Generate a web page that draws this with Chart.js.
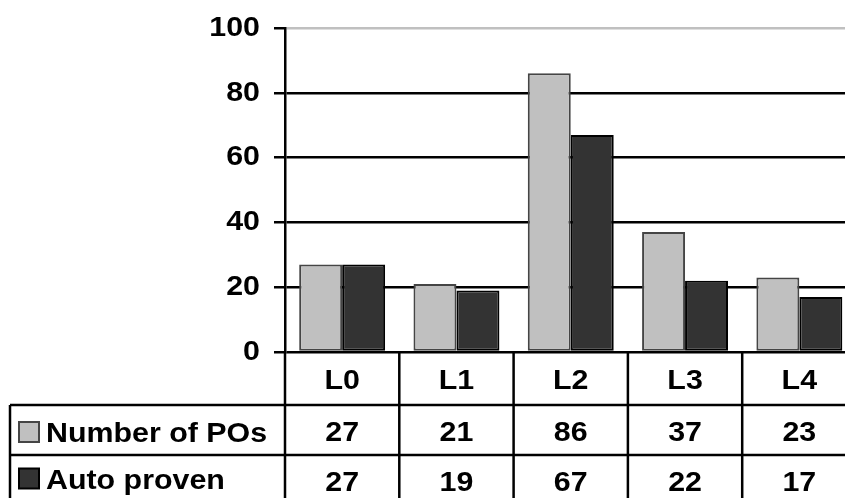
<!DOCTYPE html>
<html>
<head>
<meta charset="utf-8">
<script src="https://cdn.jsdelivr.net/npm/chart.js@4/dist/chart.umd.min.js"></script>
<style>
html,body{margin:0;padding:0;background:#fff;overflow:hidden;}
#wrap{width:845px;height:498px;overflow:hidden;position:relative;}
canvas{display:block;}
</style>
</head>
<body>
<div id="wrap"><canvas id="c" width="860" height="512"></canvas></div>
<script>
const categories = ['L0', 'L1', 'L2', 'L3', 'L4'];
const seriesNames = ['Number of POs', 'Auto proven'];
const numberOfPOs = [27, 21, 86, 37, 23];
const autoProven = [27, 19, 67, 22, 17];
const yMin = 0, yMax = 100, yStep = 20;

const FONT_SIZE = 28;
const FONT = 'bold ' + FONT_SIZE + 'px "Liberation Sans", Arial, sans-serif';
const SX = 1.085; // horizontal text stretch of the original picture
const LW = 2.5;
const lightFill = '#c0c0c0', lightBorder = '#454545';
const darkFill = '#333333', darkBorder = '#000000';

const canvas = document.getElementById('c');
const ctx = canvas.getContext('2d');
const origFill = CanvasRenderingContext2D.prototype.fillText;
ctx.fillText = function (t, x, y) {
  this.save();
  this.translate(x, y);
  this.scale(SX, 1);
  origFill.call(this, t, 0, 0);
  this.restore();
};

const tablePlugin = {
  id: 'dataTable',
  afterDraw(chart) {
    const c = chart.ctx;
    const xs = chart.scales.x, ys = chart.scales.y;
    const n = categories.length;
    const colW = (chart.chartArea.right - chart.chartArea.left) / n;
    const y0 = ys.getPixelForValue(0);
    const rowH = [53, 50, 51];
    const r1 = y0 + rowH[0], r2 = r1 + rowH[1], r3 = r2 + rowH[2];
    const leftX = 10;
    c.save();
    c.strokeStyle = '#000';
    c.lineWidth = LW;
    c.beginPath();
    c.moveTo(leftX, r1); c.lineTo(chart.chartArea.right, r1);
    c.moveTo(leftX, r2); c.lineTo(chart.chartArea.right, r2);
    c.moveTo(leftX, r3); c.lineTo(chart.chartArea.right, r3);
    for (let i = 0; i <= n; i++) {
      const bx = i < n ? xs.getPixelForValue(i) - colW / 2 : xs.getPixelForValue(n - 1) + colW / 2;
      c.moveTo(bx, y0); c.lineTo(bx, r3);
    }
    c.moveTo(leftX, r1); c.lineTo(leftX, r3);
    c.stroke();

    c.fillStyle = '#000';
    c.font = FONT;
    c.textAlign = 'center';
    c.textBaseline = 'alphabetic';
    const capOff = FONT_SIZE * 0.716 / 2;
    const rows = [numberOfPOs, autoProven];
    categories.forEach((cat, i) => {
      const cx = xs.getPixelForValue(i);
      c.fillText(cat, cx, (y0 + r1) / 2 + capOff);
      c.fillText(String(rows[0][i]), cx, (r1 + r2) / 2 + capOff + 1);
      c.fillText(String(rows[1][i]), cx, (r2 + r3) / 2 + capOff);
    });
    const fills = [lightFill, darkFill], borders = [lightBorder, darkBorder];
    const mids = [(r1 + r2) / 2 + 2, (r2 + r3) / 2 - 2];
    c.textAlign = 'left';
    seriesNames.forEach((name, k) => {
      const m = mids[k];
      c.fillStyle = fills[k];
      c.fillRect(19, m - 10, 20, 20);
      c.strokeStyle = borders[k];
      c.lineWidth = 2;
      c.strokeRect(19, m - 10, 20, 20);
      c.fillStyle = '#000';
      c.fillText(name, 46, m + capOff);
    });
    c.restore();
  }
};

new Chart(ctx, {
  type: 'bar',
  data: {
    labels: categories,
    datasets: [
      { label: seriesNames[0], data: numberOfPOs, backgroundColor: lightFill, borderColor: lightBorder, borderWidth: 2, borderSkipped: false },
      { label: seriesNames[1], data: autoProven, backgroundColor: darkFill, borderColor: darkBorder, borderWidth: 2, borderSkipped: false }
    ]
  },
  options: {
    responsive: false,
    animation: false,
    devicePixelRatio: 1,
    layout: { padding: { top: 28, bottom: 160, left: 0, right: 3.5 } },
    datasets: { bar: { categoryPercentage: 0.752, barPercentage: 1.0 } },
    plugins: { legend: { display: false }, tooltip: { enabled: false }, title: { display: false } },
    scales: {
      x: { display: false, offset: true },
      y: {
        min: yMin, max: yMax,
        afterFit(scale) { scale.width = 285; scale.paddingTop = 0; scale.paddingBottom = 0; },
        ticks: { stepSize: yStep, color: '#000', padding: 14, font: { family: '"Liberation Sans", Arial, sans-serif', size: FONT_SIZE, weight: 'bold' } },
        grid: {
          color: (c) => (c.tick && c.tick.value === yMax ? '#c0c0c0' : '#000'),
          tickColor: '#000',
          lineWidth: LW,
          tickLength: 11,
          drawTicks: true
        },
        border: { display: true, color: '#000', width: LW }
      }
    }
  },
  plugins: [tablePlugin]
});
</script>
</body>
</html>
